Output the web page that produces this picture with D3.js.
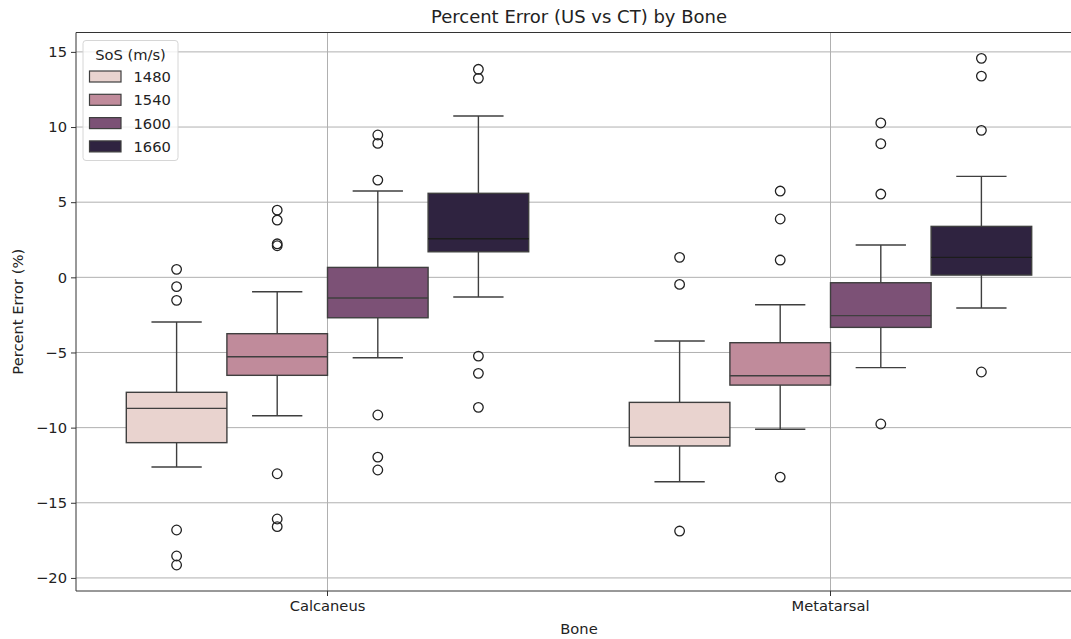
<!DOCTYPE html>
<html>
<head>
<meta charset="utf-8">
<script src="https://cdn.jsdelivr.net/npm/d3@7"></script>
<style>
  html, body { margin: 0; padding: 0; background: #fff; }
  svg { display: block; font-family: "DejaVu Sans", sans-serif; }
</style>
</head>
<body>
<svg id="chart" width="1071" height="639"></svg>
<script>
// ---- Data ----
const bones = ["Calcaneus", "Metatarsal"];
const sosLevels = [1480, 1540, 1600, 1660];
const sosColors = ["#e9d3cf", "#c08b9b", "#7c5176", "#2f2340"];
const yTicks = [-20, -15, -10, -5, 0, 5, 10, 15];

// Box statistics: [bone][sos]
const whiskerLow = [[-12.62, -9.21, -5.35, -1.31], [-13.60, -10.11, -6.01, -2.04]];
const q1 =         [[-11.00, -6.52, -2.69,  1.70], [-11.22, -7.17, -3.33,  0.15]];
const median =     [[ -8.72, -5.28, -1.38,  2.57], [-10.65, -6.55, -2.55,  1.33]];
const q3 =         [[ -7.65, -3.75,  0.66,  5.59], [ -8.32, -4.35, -0.36,  3.39]];
const whiskerHigh =[[ -2.97, -0.96,  5.74, 10.73], [ -4.24, -1.82,  2.15,  6.72]];
const outliers = [
  [
    [0.53, -0.62, -1.53, -16.81, -18.54, -19.14],
    [4.47, 3.81, 2.23, 2.10, -13.07, -16.08, -16.59],
    [9.47, 8.91, 6.47, -9.16, -11.96, -12.82],
    [13.84, 13.24, -5.24, -6.39, -8.65]
  ],
  [
    [1.33, -0.47, -16.88],
    [5.74, 3.88, 1.15, -13.29],
    [10.27, 8.89, 5.54, -9.76],
    [14.57, 13.39, 9.78, -6.30]
  ]
];

// ---- Layout ----
const svg = d3.select("#chart");
const plotLeft = 76, plotRight = 1082, plotTop = 32.5, plotBottom = 591;
const fontTick = 14.7;
const edge = "#3f3f3f";

const x = d3.scaleBand().domain(bones).range([plotLeft, plotRight]).padding(0);
const groupWidth = x.bandwidth() * 0.8;
const xHue = d3.scaleBand().domain(sosLevels).range([-groupWidth / 2, groupWidth / 2]).padding(0);
const y = d3.scaleLinear().domain([-20.87, 16.29]).range([plotBottom, plotTop]);

svg.append("defs").append("clipPath").attr("id", "clip")
  .append("rect").attr("x", plotLeft).attr("y", plotTop)
  .attr("width", plotRight - plotLeft).attr("height", plotBottom - plotTop);

// Gridlines
const grid = svg.append("g").attr("clip-path", "url(#clip)");
grid.selectAll("line.gy").data(yTicks).enter().append("line")
  .attr("x1", plotLeft).attr("x2", plotRight)
  .attr("y1", d => y(d)).attr("y2", d => y(d))
  .attr("stroke", "#b0b0b0").attr("stroke-width", 1);
grid.selectAll("line.gx").data(bones).enter().append("line")
  .attr("x1", d => x(d) + x.bandwidth() / 2).attr("x2", d => x(d) + x.bandwidth() / 2)
  .attr("y1", plotTop).attr("y2", plotBottom)
  .attr("stroke", "#b0b0b0").attr("stroke-width", 1);

// Boxes
const marks = svg.append("g").attr("clip-path", "url(#clip)");
bones.forEach((bone, bi) => {
  sosLevels.forEach((s, si) => {
    const cx = x(bone) + x.bandwidth() / 2 + xHue(s) + xHue.bandwidth() / 2;
    const bw = xHue.bandwidth();
    const g = marks.append("g");
    g.append("line").attr("x1", cx).attr("x2", cx)
      .attr("y1", y(q3[bi][si])).attr("y2", y(whiskerHigh[bi][si]))
      .attr("stroke", edge).attr("stroke-width", 1.4);
    g.append("line").attr("x1", cx).attr("x2", cx)
      .attr("y1", y(q1[bi][si])).attr("y2", y(whiskerLow[bi][si]))
      .attr("stroke", edge).attr("stroke-width", 1.4);
    [whiskerHigh[bi][si], whiskerLow[bi][si]].forEach(v => {
      g.append("line").attr("x1", cx - bw / 4).attr("x2", cx + bw / 4)
        .attr("y1", y(v)).attr("y2", y(v))
        .attr("stroke", edge).attr("stroke-width", 1.4);
    });
    g.append("rect")
      .attr("x", cx - bw / 2).attr("width", bw)
      .attr("y", y(q3[bi][si])).attr("height", y(q1[bi][si]) - y(q3[bi][si]))
      .attr("fill", sosColors[si]).attr("stroke", edge).attr("stroke-width", 1.4);
    g.append("line").attr("x1", cx - bw / 2).attr("x2", cx + bw / 2)
      .attr("y1", y(median[bi][si])).attr("y2", y(median[bi][si]))
      .attr("stroke", si === 3 ? "#1c1c1c" : edge).attr("stroke-width", 1.4);
    g.selectAll("circle").data(outliers[bi][si]).enter().append("circle")
      .attr("cx", cx).attr("cy", d => y(d)).attr("r", 4.8)
      .attr("fill", "none").attr("stroke", "#222").attr("stroke-width", 1.3);
  });
});

// Spines
[[plotLeft, plotTop, plotLeft, plotBottom], [plotLeft, plotBottom, plotRight, plotBottom],
 [plotLeft, plotTop, plotRight, plotTop], [plotRight, plotTop, plotRight, plotBottom]]
  .forEach(s => svg.append("line").attr("x1", s[0]).attr("y1", s[1]).attr("x2", s[2]).attr("y2", s[3])
    .attr("stroke", "#333").attr("stroke-width", 1));

// Axes
const yAxis = d3.axisLeft(y).tickValues(yTicks).tickSize(5).tickPadding(4)
  .tickFormat(d => d < 0 ? "\u2212" + Math.abs(d) : String(d));
const gy = svg.append("g").attr("transform", `translate(${plotLeft},0)`).call(yAxis);
gy.select(".domain").remove();
gy.selectAll("text").attr("font-size", fontTick).attr("fill", "#222").attr("font-family", "DejaVu Sans");
gy.selectAll("line").attr("stroke", "#333");

const xAxis = d3.axisBottom(x).tickSize(5).tickPadding(5);
const gx = svg.append("g").attr("transform", `translate(0,${plotBottom})`).call(xAxis);
gx.select(".domain").remove();
gx.selectAll("text").attr("font-size", fontTick).attr("fill", "#222").attr("font-family", "DejaVu Sans");
gx.selectAll("line").attr("stroke", "#333");

// Labels
svg.append("text").attr("x", (plotLeft + plotRight) / 2).attr("y", 23)
  .attr("text-anchor", "middle").attr("font-size", 18).attr("fill", "#222")
  .text("Percent Error (US vs CT) by Bone");
svg.append("text").attr("x", (plotLeft + plotRight) / 2).attr("y", 634)
  .attr("text-anchor", "middle").attr("font-size", fontTick).attr("fill", "#222")
  .text("Bone");
svg.append("text").attr("transform", `translate(23,${(plotTop + plotBottom) / 2}) rotate(-90)`)
  .attr("text-anchor", "middle").attr("font-size", fontTick).attr("fill", "#222")
  .text("Percent Error (%)");

// Legend
const lg = svg.append("g");
lg.append("rect").attr("x", 83).attr("y", 40.5).attr("width", 95).attr("height", 120)
  .attr("rx", 3).attr("fill", "#fff").attr("fill-opacity", 0.8)
  .attr("stroke", "#d6d6d6").attr("stroke-width", 1);
lg.append("text").attr("x", 130.5).attr("y", 60).attr("text-anchor", "middle")
  .attr("font-size", fontTick).attr("fill", "#222").text("SoS (m/s)");
sosLevels.forEach((s, i) => {
  const ty = 71 + i * 23.3;
  lg.append("rect").attr("x", 89.5).attr("y", ty).attr("width", 31.5).attr("height", 11)
    .attr("fill", sosColors[i]).attr("stroke", edge).attr("stroke-width", 1.2);
  lg.append("text").attr("x", 133.5).attr("y", ty + 11)
    .attr("font-size", fontTick).attr("fill", "#222").text(s);
});
</script>
</body>
</html>
